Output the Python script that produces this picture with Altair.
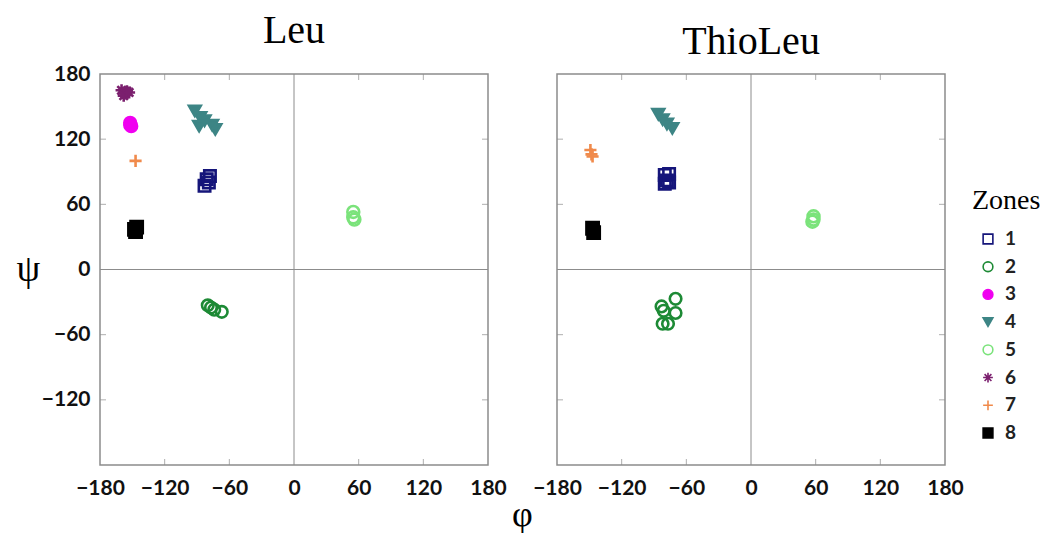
import altair as alt
import pandas as pd

# ---------------- data ----------------
zones = ["1", "2", "3", "4", "5", "6", "7", "8"]
zone_colors = ["#15157A", "#1D8A35", "#F000F0", "#3D8585", "#7BE37B", "#7B1F6E", "#F08A4B", "#000000"]
zone_fills = ["transparent", "transparent", "#F000F0", "#3D8585", "transparent", "transparent", "transparent", "#000000"]
ASTER = "M-1,0L1,0M0,-1L0,1M-0.7,-0.7L0.7,0.7M-0.7,0.7L0.7,-0.7"
PLUS = "M-1,0L1,0M0,-1L0,1"
zone_shapes = ["square", "circle", "circle", "triangle-down", "circle", ASTER, PLUS, "square"]
zone_sizes = [130, 150, 170, 330, 150, 200, 170, 190]
legend_title = ["Zones"]

leu_zone = ["1", "1", "1", "1",
            "2", "2", "2", "2",
            "3", "3", "3",
            "4", "4", "4", "4", "4", "4",
            "5", "5", "5",
            "6", "6", "6", "6", "6",
            "7",
            "8", "8", "8"]
leu_phi = [-81, -78, -83, -79,
           -80, -77, -74, -67,
           -152, -151, -152,
           -92, -87, -83, -88, -73, -76,
           55, 55, 56,
           -160, -157, -155, -158, -153,
           -147,
           -148, -146, -147]
leu_psi = [83, 86, 77, 80,
           -33, -35, -37, -39,
           135, 132, 133,
           146, 140, 137, 132, 129, 133,
           53, 48, 46,
           165, 162, 164, 160, 163,
           100,
           37, 39, 35]

thio_zone = ["1", "1", "1", "1", "1",
             "2", "2", "2", "2", "2", "2",
             "4", "4", "4", "4",
             "5", "5", "5",
             "7", "7", "7",
             "8", "8"]
thio_phi = [-80, -76, -80, -76, -78,
            -70, -83, -81, -70, -82, -77,
            -86, -82, -73, -78,
            58, 57, 58,
            -149, -148, -147,
            -147, -146]
thio_psi = [87, 88, 79, 80, 82,
            -27, -34, -38, -40, -50, -50,
            143, 138, 130, 134,
            49, 44, 46,
            110, 106, 104,
            38, 34]

x_ticks = [-180, -120, -60, 0, 60, 120, 180]
y_ticks = [-120, -60, 0, 60, 120, 180]
inner_ticks = [-120, -60, 60, 120]
zero_vals = [0]

# ---------------- chart ----------------
GRAY = "#8C8C8C"
scale_x = alt.Scale(domain=[-180, 180], nice=False, zero=False)
scale_y = alt.Scale(domain=[-180, 180], nice=False, zero=False)
stroke_scale = alt.Scale(domain=zones, range=zone_colors)
fill_scale = alt.Scale(domain=zones, range=zone_fills)
shape_scale = alt.Scale(domain=zones, range=zone_shapes)


def panel(zone, phi, psi, title, left):
    df = pd.DataFrame({"zone": zone, "phi": phi, "psi": psi})
    zero_df = pd.DataFrame({"v": zero_vals})
    tick_df = pd.DataFrame({"v": inner_ticks})

    common = dict(domain=False, ticks=False, grid=False, labelFont="Lato",
                  labelFontWeight="bold", labelFontSize=21, labelColor="#111",
                  labelFlush=False, labelOverlap=False)
    if left:
        xaxis = alt.Axis(values=x_ticks, title="φ", titleFont="Liberation Serif",
                         titleFontSize=36, titleFontWeight="normal", titleX=422, titleY=49,
                         titleAlign="center", titleBaseline="middle", labelPadding=12, **common)
        yaxis = alt.Axis(values=y_ticks, title="ψ", titleFont="Liberation Serif",
                         titleFontSize=38, titleFontWeight="normal", titleAngle=0,
                         titleX=-72, titleY=195, titleAlign="center", titleBaseline="middle",
                         labelPadding=10, **common)
    else:
        xaxis = alt.Axis(values=x_ticks, title=None, labelPadding=12, **common)
        yaxis = alt.Axis(values=y_ticks, title=None, labels=False, **common)

    vline = alt.Chart(zero_df).mark_rule(color=GRAY, strokeWidth=1).encode(
        x=alt.X("v:Q", scale=scale_x, axis=xaxis))
    hline = alt.Chart(zero_df).mark_rule(color=GRAY, strokeWidth=1).encode(
        y=alt.Y("v:Q", scale=scale_y, axis=yaxis))

    tb = alt.Chart(tick_df).mark_tick(orient="vertical", size=12, thickness=1, color=GRAY, clip=True).encode(
        x=alt.X("v:Q", scale=scale_x), y=alt.datum(-180, scale=scale_y))
    tt = alt.Chart(tick_df).mark_tick(orient="vertical", size=12, thickness=1, color=GRAY, clip=True).encode(
        x=alt.X("v:Q", scale=scale_x), y=alt.datum(180, scale=scale_y))
    tl = alt.Chart(tick_df).mark_tick(orient="horizontal", size=12, thickness=1, color=GRAY, clip=True).encode(
        y=alt.Y("v:Q", scale=scale_y), x=alt.datum(-180, scale=scale_x))
    tr = alt.Chart(tick_df).mark_tick(orient="horizontal", size=12, thickness=1, color=GRAY, clip=True).encode(
        y=alt.Y("v:Q", scale=scale_y), x=alt.datum(180, scale=scale_x))

    pts = alt.Chart(df).mark_point(strokeWidth=2.6, opacity=1).encode(
        x=alt.X("phi:Q", scale=scale_x),
        y=alt.Y("psi:Q", scale=scale_y),
        stroke=alt.Stroke("zone:N", scale=stroke_scale, legend=None),
        fill=alt.Fill("zone:N", scale=fill_scale, legend=None),
        shape=alt.Shape("zone:N", scale=shape_scale, legend=None),
        size=alt.Size("zone:N", scale=alt.Scale(domain=zones, range=zone_sizes), legend=None),
    )

    return alt.layer(vline, hline, tb, tt, tl, tr, pts).properties(
        width=388, height=391,
        title=alt.TitleParams(title, font="Liberation Serif", fontSize=40,
                              fontWeight="normal", color="black", offset=12),
    )


left = panel(leu_zone, leu_phi, leu_psi, "Leu", True)
right = panel(thio_zone, thio_phi, thio_psi, "ThioLeu", False)

# ---- legend panel (Zones), drawn into the gap right of the ThioLeu panel ----
leg_df = pd.DataFrame({"zone": zones})
leg_y = alt.Y("zone:N", scale=alt.Scale(domain=zones, range=[165, 359], padding=0), axis=None)
leg_pts = alt.Chart(leg_df).mark_point(strokeWidth=1.6, opacity=1, size=95).encode(
    x=alt.value(-26),
    y=leg_y,
    stroke=alt.Stroke("zone:N", scale=stroke_scale, legend=None),
    fill=alt.Fill("zone:N", scale=fill_scale, legend=None),
    shape=alt.Shape("zone:N", scale=shape_scale, legend=None),
)
leg_txt = alt.Chart(leg_df).mark_text(
    align="left", baseline="middle", font="Lato", fontWeight="bold", fontSize=19, color="#222"
).encode(x=alt.value(-9), y=leg_y, text="zone:N")
leg_title = alt.Chart(pd.DataFrame({"t": legend_title})).mark_text(
    align="left", baseline="middle", font="Liberation Serif", fontSize=28, color="black"
).encode(x=alt.value(-42), y=alt.value(127), text="t:N")

legend_panel = alt.layer(leg_pts, leg_txt, leg_title).properties(
    width=1, height=391,
    view=alt.ViewBackground(stroke="transparent"),
)

chart = alt.hconcat(left, right, legend_panel, spacing=69, bounds="flush").resolve_scale(
    stroke="shared", fill="shared", shape="shared"
).properties(
    padding={"left": 7, "top": 2, "right": 0, "bottom": 0},
    background="white",
).configure_view(
    stroke=GRAY, strokeWidth=1.5
)

chart.save("out.html", embed_options={"renderer": "svg", "actions": False})
